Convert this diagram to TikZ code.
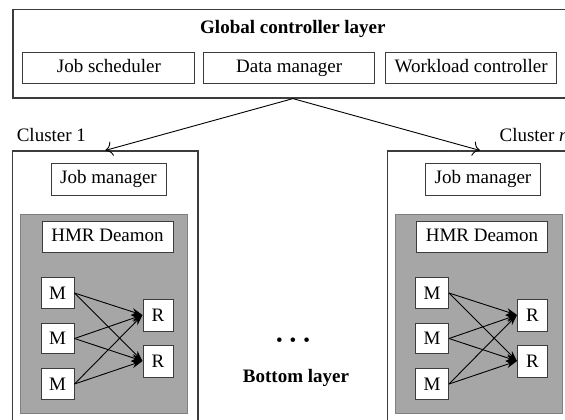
\documentclass[tikz,border=0pt]{standalone}
\usepackage{fontspec}
\setmainfont{Liberation Serif}
\usetikzlibrary{arrows.meta,calc,positioning}
\definecolor{hmrgray}{RGB}{166,166,166}
\definecolor{edgegray}{RGB}{60,60,60}
\newcommand{\diagfont}{\fontsize{9.5}{11}\selectfont}

\begin{document}
\begin{tikzpicture}[
    x=0.5pt, y=-0.5pt,
    font=\diagfont,
    layerbox/.style={draw=edgegray, line width=0.6pt, inner sep=0pt},
    unit/.style={draw=edgegray, fill=white, line width=0.5pt, inner sep=0pt, minimum height=15.3pt, text height=0.68em, text depth=0.2em},
    daemonbox/.style={draw=black!50, fill=hmrgray, line width=0.5pt, inner sep=0pt, minimum width=83.6pt, minimum height=99.5pt},
    task/.style={draw=edgegray, fill=white, line width=0.5pt, inner sep=0pt, minimum width=16.5pt, minimum height=15.3pt, text height=0.68em, text depth=0.05em},
    flow/.style={-{Stealth[length=5.5pt,width=3.6pt]}, line width=0.45pt},
    link/.style={-{To[length=3.5pt]}, line width=0.45pt}
  ]
  \useasboundingbox (0,0) rectangle (565,419);
  \clip (0,0) rectangle (565,419);

  % global controller layer
  \node[layerbox, minimum width=280pt, minimum height=44.25pt] (global) at (292.9,53.75) {};
  \node[font=\diagfont\bfseries] (globaltitle) at (292.9,29) {Global controller layer};
  \node[unit, minimum width=86pt] (sched) at (108.9,68) {Job scheduler};
  \node[unit, minimum width=85.3pt] (datamgr) at (289.2,68) {Data manager};
  \node[unit, minimum width=85.5pt] (workload) at (471.2,68) {Workload controller};

  % clusters (left and right are the same)
  \foreach \name/\dx in {one/0, last/374.5} {
    \begin{scope}[shift={(\dx,0)}]
      \node[layerbox, minimum width=92.65pt, minimum height=137.5pt] (cl\name) at (105.35,288.5) {};
      \node[daemonbox] (hmr\name) at (104.35,313.5) {};
      \node[unit, minimum width=57.5pt, minimum height=16pt] (jm\name) at (108.5,179) {Job manager};
      \node[unit, minimum width=65.5pt, minimum height=15.5pt] (hd\name) at (107.5,236.5) {HMR Deamon};
      \node[task] (ma\name) at (57.5,293) {M};
      \node[task] (mb\name) at (57.5,338.5) {M};
      \node[task] (mc\name) at (57.5,384) {M};
      \node[task, minimum width=15pt, minimum height=16pt] (ra\name) at (158,315) {R};
      \node[task, minimum width=15pt, minimum height=16pt] (rb\name) at (158,361) {R};
    \end{scope}
    \foreach \m in {a,b,c}
      \foreach \r in {a,b}
        \draw[flow] (m\m\name.east) -- (r\r\name.west);
  }

  \node[anchor=base west, inner sep=0pt] (clonelabel) at ($(clone.north west)+(4.3,-9)$) {Cluster 1};
  \node[anchor=base east, inner sep=0pt] (cllastlabel) at ($(cllast.north east)+(-4,-9)$) {Cluster \textit{n}};

  \draw[link] (global.south) -- (clone.north);
  \draw[link] (global.south) -- (cllast.north);

  \node (dots) at (293,342) {\textbullet\hspace{3.5pt}\textbullet\hspace{3.5pt}\textbullet};
  \node[font=\diagfont\bfseries] (bottom) at (296,378) {Bottom layer};
\end{tikzpicture}
\end{document}
